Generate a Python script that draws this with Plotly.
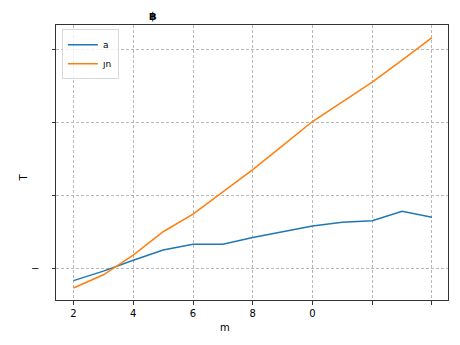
import plotly.graph_objects as go

x_vals = [2, 3, 4, 5, 6, 7, 8, 9, 10, 11, 12, 13, 14]
series_a = [0.84, 0.97, 1.12, 1.26, 1.34, 1.34, 1.43, 1.51, 1.59, 1.64, 1.66, 1.79, 1.71]
series_b = [0.74, 0.92, 1.19, 1.51, 1.75, 2.05, 2.36, 2.69, 3.02, 3.29, 3.56, 3.86, 4.17]
name_a = "a"
name_b = "ȷn"
x_tickvals = [2, 4, 6, 8, 10, 12, 14]
x_ticktext = ["2", "4", "6", "8", "0", "", ""]
y_tickvals = [1, 2, 3, 4]
y_ticktext = ["−", "", "", ""]
title_text = "฿"
x_title = "m"
y_title = "T"

font = dict(family="DejaVu Sans", size=10, color="black")

fig = go.Figure()
fig.add_trace(go.Scatter(x=x_vals, y=series_a, mode="lines", name=name_a,
                         line=dict(color="#1f77b4", width=1.5)))
fig.add_trace(go.Scatter(x=x_vals, y=series_b, mode="lines", name=name_b,
                         line=dict(color="#ff7f0e", width=1.5)))

axis_common = dict(showline=True, linecolor="#333333", linewidth=1, mirror=True,
                   showgrid=True, gridcolor="#b8b8b8", griddash="3px,2px", gridwidth=0.8,
                   ticks="outside", ticklen=3.5, tickcolor="#333333", zeroline=False,
                   tickfont=dict(family="DejaVu Sans", size=10, color="black"))

fig.update_layout(
    width=460, height=345,
    margin=dict(l=56, r=12, t=25, b=45),
    paper_bgcolor="white", plot_bgcolor="white",
    font=font,
    showlegend=True,
    legend=dict(x=0.015, y=0.985, xanchor="left", yanchor="top",
                bgcolor="rgba(255,255,255,0.8)", bordercolor="#d8d8d8", borderwidth=1,
                font=dict(family="DejaVu Sans", size=9, color="black"),
                tracegroupgap=0, itemwidth=30, entrywidth=50),
    xaxis=dict(range=[1.414, 14.536], tickvals=x_tickvals, ticktext=x_ticktext, **axis_common),
    yaxis=dict(range=[0.575, 4.342], tickvals=y_tickvals, ticktext=y_ticktext,
               ticklabelstandoff=10, **axis_common),
    annotations=[
        dict(text="<b>" + title_text + "</b>", xref="paper", yref="paper", x=(147 - 56) / 392, y=1.0,
             yshift=9, showarrow=False, yanchor="middle", font=dict(size=11, color="black")),
        dict(text=x_title, xref="paper", yref="paper", x=(225 - 56) / 392, y=0,
             yshift=-20, showarrow=False, yanchor="top", font=dict(size=10, color="black")),
        dict(text=y_title, xref="paper", yref="paper", x=0, xshift=-41, y=(300 - 178) / 275,
             showarrow=False, textangle=-90, font=dict(size=10, color="black")),
    ],
)

fig.write_html("out.html")
